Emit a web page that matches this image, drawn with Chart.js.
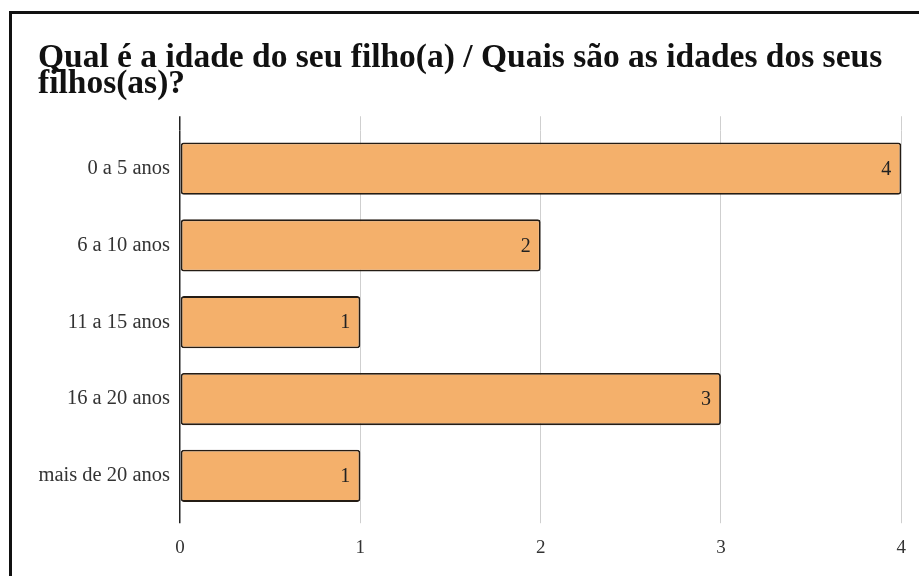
<!DOCTYPE html>
<html>
<head>
<meta charset="utf-8">
<script src="https://cdn.jsdelivr.net/npm/chart.js@4.4.1/dist/chart.umd.min.js"></script>
<style>
  html, body { margin: 0; padding: 0; background: #fff; }
  #wrap { position: relative; width: 919px; height: 576px; overflow: hidden; }
  #frame { position: absolute; left: 9px; top: 11px; width: 2000px; height: 2000px;
           border-left: 3px solid #111; border-top: 3px solid #111; pointer-events: none; }
  canvas { position: absolute; left: 0; top: 0; }
</style>
</head>
<body>
<div id="wrap">
  <canvas id="chart" width="919" height="576"></canvas>
  <div id="frame"></div>
</div>
<script>
// dados do gráfico
const titleLines = ['Qual é a idade do seu filho(a) / Quais são as idades dos seus', 'filhos(as)?'];
const categories = ['0 a 5 anos', '6 a 10 anos', '11 a 15 anos', '16 a 20 anos', 'mais de 20 anos'];
const counts = [4, 2, 1, 3, 1];
const xTicks = [0, 1, 2, 3, 4];

const serif = "'Liberation Serif', 'DejaVu Serif', serif";

// valores dentro das barras, alinhados à direita
const barLabels = {
    id: 'barLabels',
    afterDatasetsDraw(chart) {
        const ctx = chart.ctx;
        const meta = chart.getDatasetMeta(0);
        ctx.save();
        ctx.font = '20px ' + serif;
        ctx.fillStyle = '#222';
        ctx.textAlign = 'right';
        ctx.textBaseline = 'middle';
        meta.data.forEach((bar, i) => {
            ctx.fillText(String(counts[i]), bar.x - 10, bar.y + 1);
        });
        ctx.restore();
    }
};

const gridColor = c => (c.tick && c.tick.value === 0 ? '#222' : '#cfcfcf');
const gridWidth = c => (c.tick && c.tick.value === 0 ? 1.5 : 1);

new Chart(document.getElementById('chart'), {
    type: 'bar',
    data: {
        labels: categories,
        datasets: [{
            data: counts,
            backgroundColor: '#f4b06b',
            borderColor: '#241c14',
            borderWidth: 1.8,
            borderRadius: 3,
            borderSkipped: false,
            categoryPercentage: 0.68,
            barPercentage: 1
        }]
    },
    options: {
        indexAxis: 'y',
        responsive: false,
        animation: false,
        layout: { padding: { left: 38, right: 17, top: 45, bottom: 4 } },
        plugins: {
            legend: { display: false },
            tooltip: { enabled: false },
            title: {
                display: true,
                text: titleLines,
                align: 'start',
                color: '#111',
                font: { family: serif, size: 33.5, weight: 'bold', lineHeight: 0.78 },
                padding: { top: 0, bottom: 19 }
            }
        },
        scales: {
            x: {
                min: 0,
                max: 4,
                position: 'bottom',
                afterBuildTicks: s => { s.ticks = xTicks.map(v => ({ value: v })); },
                grid: { color: gridColor, lineWidth: gridWidth, tickLength: 9 },
                border: { display: false },
                ticks: { color: '#333', padding: 13, font: { family: serif, size: 19 } }
            },
            x2: {
                min: 0,
                max: 4,
                position: 'top',
                afterBuildTicks: s => { s.ticks = xTicks.map(v => ({ value: v })); },
                grid: { color: gridColor, lineWidth: gridWidth, tickLength: 14, drawOnChartArea: false },
                border: { display: false },
                ticks: { display: false }
            },
            y: {
                afterFit: s => { s.width = 142; },
                grid: { display: false, drawTicks: false },
                border: { display: false },
                ticks: { color: '#333', padding: 10, font: { family: serif, size: 20.5 } }
            }
        }
    },
    plugins: [barLabels]
});
</script>
</body>
</html>
